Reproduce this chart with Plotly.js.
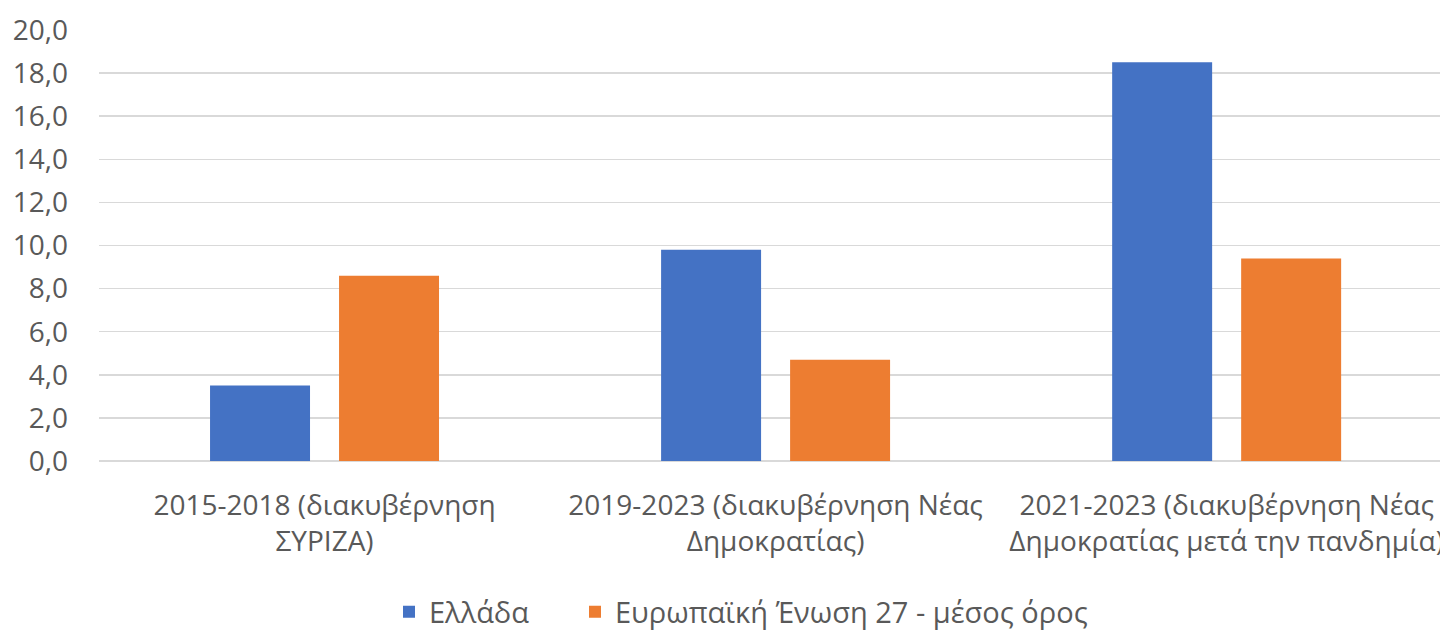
<!DOCTYPE html>
<html>
<head>
<meta charset="utf-8">
<script src="https://cdn.plot.ly/plotly-3.0.1.min.js"></script>
<style>html,body{margin:0;padding:0;background:#fff;overflow:hidden}#chart{width:1440px;height:630px}</style>
</head>
<body>
<div id="chart"></div>
<script>
const categories = [
  "2015-2018 (διακυβέρνηση<br>ΣΥΡΙΖΑ)",
  "2019-2023 (διακυβέρνηση Νέας<br>Δημοκρατίας)",
  "2021-2023 (διακυβέρνηση Νέας<br>Δημοκρατίας μετά την πανδημία)"
];
const greece = [3.5, 9.8, 18.5];
const eu27 = [8.6, 4.7, 9.4];
const seriesNames = ["Ελλάδα", "Ευρωπαϊκή Ένωση 27 - μέσος όρος"];
const yTicks = [0, 2, 4, 6, 8, 10, 12, 14, 16, 18, 20];

const FONT = "Open Sans, Noto Sans, sans-serif";
const traces = [
  {type: "bar", name: seriesNames[0], x: categories, y: greece, marker: {color: "#4472C4"}, hoverinfo: "none", legend: "legend"},
  {type: "bar", name: seriesNames[1], x: categories, y: eu27, marker: {color: "#ED7D31"}, hoverinfo: "none", legend: "legend2"}
];
const legendBase = {
  orientation: "h", xanchor: "left", xref: "container",
  y: 18/630, yanchor: "middle", yref: "container",
  font: {size: 29, color: "#595959"}, itemwidth: 30, bgcolor: "rgba(0,0,0,0)"
};
const layout = {
  width: 1440, height: 630,
  margin: {l: 99, r: 0, t: 30, b: 169},
  paper_bgcolor: "#fff", plot_bgcolor: "#fff",
  separators: ", ",
  barmode: "group", bargap: 0.428, bargroupgap: 0.225,
  font: {family: FONT, color: "#595959", size: 29},
  xaxis: {
    type: "category", range: [-0.5, 2.473], automargin: false,
    showgrid: false, zeroline: false, showline: false, ticks: "",
    tickfont: {size: 28, color: "#595959"}, ticklabelstandoff: 25
  },
  yaxis: {
    range: [0, 20], tickvals: yTicks, tickformat: ".1f", automargin: false,
    showgrid: true, gridcolor: "#d9d9d9", gridwidth: 1.5,
    zeroline: true, zerolinecolor: "#d9d9d9", zerolinewidth: 1.5,
    showline: false, ticks: "", ticklabelstandoff: 30,
    tickfont: {size: 28, color: "#595959"}
  },
  legend: Object.assign({}, legendBase, {x: 389/1440}),
  legend2: Object.assign({}, legendBase, {x: 575/1440}),
  showlegend: true
};
Plotly.newPlot("chart", traces, layout, {displayModeBar: false, staticPlot: true});
</script>
</body>
</html>
